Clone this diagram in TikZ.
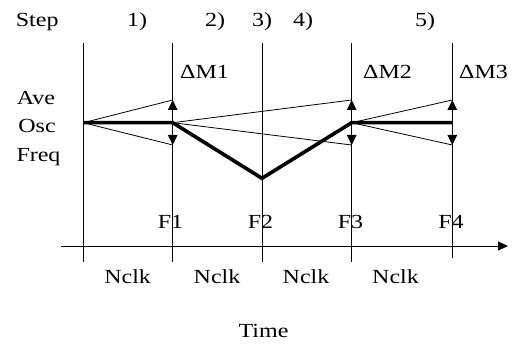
\documentclass[tikz,border=0pt]{standalone}
\usepackage{fontspec}
\setmainfont[FakeStretch=1.2]{Liberation Serif}
\usetikzlibrary{arrows.meta}
\begin{document}
\begin{tikzpicture}[x=1pt,y=-1pt,
  lbl/.style={inner sep=0pt,anchor=base,font=\fontsize{20}{24}\selectfont},
  lblw/.style={lbl,anchor=base west},
  grid/.style={line width=0.8pt},
  thinl/.style={line width=0.8pt},
  thick line/.style={line width=3.6pt},
  dm/.style={line width=0.8pt,-{Triangle[width=9.5pt,length=10pt]}},
  axis/.style={line width=0.8pt,-{Triangle[width=9pt,length=10pt]}}]
\useasboundingbox (0,0) rectangle (513,347);
% vertical lines
\coordinate (t0) at (83.3,43);  \coordinate (b0) at (83.3,262);
\coordinate (t1) at (172.7,43); \coordinate (b1) at (172.7,262);
\coordinate (t2) at (262,43);   \coordinate (b2) at (262,262);
\coordinate (t3) at (351.7,43); \coordinate (b3) at (351.7,262);
\coordinate (t4) at (452.3,43); \coordinate (b4) at (452.3,258);
\foreach \i in {0,...,4} \draw[grid] (t\i) -- (b\i);
% axis
\coordinate (axl) at (61,246);
\coordinate (axr) at (508,246);
\draw[axis] (axl) -- (axr);
% frequency path points
\coordinate (p0) at (83.3,122.7);
\coordinate (p1) at (172.7,122.7);
\coordinate (p2) at (262,178.3);
\coordinate (p3) at (351.7,122.7);
\coordinate (p4) at (452.3,122.7);
\coordinate (u1) at (172.7,100); \coordinate (d1) at (172.7,145);
\coordinate (u2) at (351.7,100); \coordinate (d2) at (351.7,145);
\coordinate (u3) at (452.3,100); \coordinate (d3) at (452.3,145);
% thin envelope lines
\draw[thinl] (p0) -- (u1);
\draw[thinl] (p0) -- (d1);
\draw[thinl] (p1) -- (u2);
\draw[thinl] (p1) -- (d2);
\draw[thinl] (p3) -- (u3);
\draw[thinl] (p3) -- (d3);
% thick path
\draw[thick line] (p0) -- (p1) -- (p2) -- (p3) -- (p4);
% delta arrows
\draw[dm] (p1) -- (u1);
\draw[dm] (p1) -- (d1);
\draw[dm] (p3) -- (u2);
\draw[dm] (p3) -- (d2);
\draw[dm] (p4) -- (u3);
\draw[dm] (p4) -- (d3);
% labels
\node[lblw] (step) at (15.7,27) {Step};
\node[lbl] (s1) at (137,27) {1)};
\node[lbl] (s2) at (215,27) {2)};
\node[lbl] (s3) at (262,27) {3)};
\node[lbl] (s4) at (303,27) {4)};
\node[lbl] (s5) at (425,27) {5)};
\node[lblw] (m1) at (180,79) {ΔM1};
\node[lblw] (m2) at (363,79) {ΔM2};
\node[lblw] (m3) at (459,79) {ΔM3};
\node[lbl] (ave) at (36,105) {Ave};
\node[lbl] (osc) at (37,133) {Osc};
\node[lbl] (freq) at (38.5,162) {Freq};
\node[lbl] (f1) at (170.5,228) {F1};
\node[lbl] (f2) at (260.5,228) {F2};
\node[lbl] (f3) at (350.5,228) {F3};
\node[lbl] (f4) at (451,228) {F4};
\node[lbl] (n1) at (127.6,283) {Nclk};
\node[lbl] (n2) at (217,283) {Nclk};
\node[lbl] (n3) at (306,283) {Nclk};
\node[lbl] (n4) at (395.5,283) {Nclk};
\node[lbl] (time) at (263.5,337) {Time};
\end{tikzpicture}
\end{document}
